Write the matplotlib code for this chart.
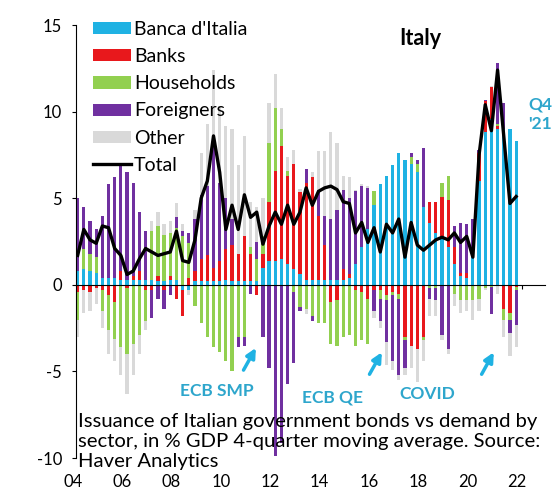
import numpy as np
import matplotlib.pyplot as plt
from matplotlib.transforms import ScaledTranslation

plt.rcParams['font.family'] = ['Lato', 'DejaVu Sans']
plt.rcParams['axes.unicode_minus'] = False

# quarterly, 2004Q1 .. 2021Q4, % of GDP (4-quarter moving average)
quarters = 2004 + np.arange(72) / 4

banca_italia = [0.8, 0.9, 0.8, 0.7, 0.4, 0.4, 0.4, 0.3, 0.3, 0.3, 0.3, 0.3,
                0.3, 0.2, 0.2, 0.3, 0.3, -0.3, -0.3, 0.2, 0.2, 0.2, 0.2, 0.2,
                0.3, 0.2, 0.2, 0.2, 0.2, 0.2, 1.0, 1.4, 1.4, 1.5, 1.2, 0.9,
                0.6, 0.3, 0.3, 0.3, 0.3, 0.3, 0.3, 0.3, 0.4, 1.2, 2.2, 3.2,
                4.6, 5.8, 6.3, 6.9, 7.6, 7.2, 7.0, 6.5, 4.5, 3.6, 3.0, 2.8,
                2.2, 1.2, 0.5, 0.4, 1.8, 6.0, 8.8, 9.6, 9.0, 9.0, 9.0, 8.3]
banks = [-0.4, -0.3, -0.4, -0.2, -0.3, -0.6, -1.0, 0.5, -0.2, 0.2, 0.5, -0.3,
         -0.3, 0.3, -0.3, 0.2, -0.8, -1.5, 0.4, 0.6, 1.3, 1.5, 0.8, 1.2,
         1.8, 2.1, 1.6, 2.6, 1.6, -0.6, 0.8, 3.4, 5.2, 6.5, 5.1, 6.1,
         4.75, 5.6, 5.9, 3.7, 2.0, -1.0, -0.9, 0.6, 0.2, -0.3, -0.4, -0.8,
         -0.3, -0.3, -0.6, -0.4, -0.5, -3.0, -3.5, -3.7, -3.0, 1.2, 1.8, 2.3,
         2.7, 1.0, 0.2, 0.3, 0.2, 1.6, 1.8, 1.8, 0.2, -1.4, -1.6, -0.1]
households = [-1.6, 1.2, 1.0, 0.9, -1.2, -2.0, -2.1, -3.6, -3.8, -3.4, -2.9, -1.8,
              2.8, 2.9, 2.7, 2.5, 3.0, 2.8, 2.0, -1.2, -2.2, -3.0, -3.6, -3.9,
              -4.4, -5.0, -3.0, -3.0, 0.4, 1.3, 1.0, 3.4, 3.6, 1.0, 0.3, -0.4,
              -1.3, -1.4, -1.8, -2.2, -2.2, -2.4, -2.6, -3.0, -2.9, -3.2, -2.8, -2.6,
              0.8, -0.5, -0.3, -0.2, -0.3, -0.2, 0.4, 0.5, -0.2, -0.2, -0.2, 0.8,
              1.4, -0.5, -0.9, -0.9, -0.9, -0.8, -0.2, -0.1, 0.1, -0.6, -0.4, -0.2]
foreigners = [4.2, 2.4, 1.9, 1.6, 3.6, 5.4, 5.8, 6.2, 6.2, 5.4, 3.4, 2.8,
              -1.6, -0.8, -1.1, -0.6, 0.6, 0.3, 0.6, 3.0, 3.7, 4.0, 7.0, 4.5,
              2.9, 1.5, -0.6, -0.5, -0.5, 1.0, -3.0, -4.8, -9.9, -9.1, -5.7, -4.1,
              -0.2, 0.8, -0.3, 1.5, 1.7, 3.5, 4.0, 4.6, 4.4, 4.2, 3.5, 2.4,
              -1.2, -1.3, -2.4, -3.8, -4.4, -1.6, 0.2, 0.2, 3.4, -0.6, -0.7, -2.9,
              -3.7, 1.2, 2.9, 2.8, 1.8, 0.2, 0.1, -1.6, 3.5, 1.5, -0.8, -2.0]
other = [-1.0, -1.3, -1.1, -0.9, -1.0, -1.4, -1.3, -1.6, -2.3, -1.8, -1.1, -0.5,
         0.6, 0.8, 0.6, 0.7, 0.8, 0.4, -0.3, 0.5, 2.4, 3.6, 4.4, 4.4,
         4.2, 5.2, 5.1, 5.8, 2.6, 2.0, 2.2, 2.3, 2.0, 1.2, 0.8, 0.8,
         0.2, -0.3, 0.3, 2.2, 3.7, 5.0, 3.9, 0.8, 1.2, 0.1, 0.1, 0.1,
         -0.4, -0.4, -1.3, -0.5, -0.3, -0.4, -1.3, -1.9, -1.2, -1.0, -0.9, -0.3,
         -0.3, -0.7, -0.7, -0.6, -1.1, -0.7, -0.1, 0.1, -0.5, -1.0, -1.3, -1.3]
total = [1.7, 3.2, 2.6, 2.4, 3.4, 3.3, 2.1, 1.7, 0.6, 0.8, 1.5, 2.1,
         1.9, 1.7, 1.8, 1.9, 3.1, 1.4, 1.3, 2.6, 5.0, 6.0, 8.6, 6.5,
         3.2, 4.6, 3.2, 5.2, 3.9, 4.2, 2.35, 3.4, 4.2, 3.5, 4.6, 3.5,
         4.2, 5.6, 4.6, 5.4, 5.6, 5.7, 5.5, 4.8, 4.7, 3.0, 3.6, 2.45,
         3.3, 1.9, 3.5, 3.0, 3.8, 1.6, 3.6, 2.3, 2.0, 2.3, 2.6, 2.75,
         2.6, 3.0, 2.45, 2.8, 1.6, 7.5, 10.4, 8.9, 12.4, 8.6, 4.7, 5.1]

series = [("Banca d'Italia", banca_italia, '#1fb2e3'),
          ('Banks', banks, '#e8181c'),
          ('Households', households, '#92d050'),
          ('Foreigners', foreigners, '#7030a0'),
          ('Other', other, '#d9d9d9')]

year_ticks = list(range(2004, 2023, 2))
year_labels = ['04', '06', '08', '10', '12', '14', '16', '18', '20', '22']
note_color = '#2ea6cc'
arrow_color = '#1fb2e3'

fig = plt.figure(figsize=(5.55, 4.91), dpi=100)
ax = fig.add_axes([0.137, 0.067, 0.845, 0.882])

pos_base = np.zeros(len(quarters))
neg_base = np.zeros(len(quarters))
handles = []
for name, vals, col in series:
    v = np.array(vals)
    p = np.where(v > 0, v, 0)
    n = np.where(v < 0, v, 0)
    h = ax.bar(quarters, p, 0.13, bottom=pos_base, color=col, label=name, zorder=2)
    ax.bar(quarters, n, 0.13, bottom=neg_base, color=col, zorder=2)
    handles.append(h)
    pos_base += p
    neg_base += n

line, = ax.plot(quarters, total, color='black', lw=2.4, label='Total', zorder=3)
handles.append(line)

ax.set_xlim(2003.935, 2022.92)
ax.set_ylim(-10, 15)
ax.spines['top'].set_visible(False)
ax.spines['right'].set_visible(False)
ax.spines['bottom'].set_position(('data', 0))
ax.spines['bottom'].set_zorder(4)
ax.set_xticks(year_ticks)
ax.set_xticklabels(year_labels)
ax.tick_params(axis='x', direction='out', length=3, pad=133.5, labelsize=12)
ax.set_yticks([-10, -5, 0, 5, 10, 15])
ax.set_yticklabels(['-10', '-5', '0', '5', '10', '15'])
ax.tick_params(axis='y', direction='out', length=3, pad=7, labelsize=12)
for lab in ax.get_xticklabels():
    lab.set_transform(lab.get_transform() + ScaledTranslation(-0.05, 0, fig.dpi_scale_trans))

ax.legend(handles=handles, loc='upper left', bbox_to_anchor=(0.1676, 0.957),
          bbox_transform=fig.transFigure, frameon=False, fontsize=14,
          handlelength=1.95, handleheight=0.58, handletextpad=0.15,
          labelspacing=0.52, borderpad=0, borderaxespad=0)

ax.text(2017.86, 14.2, 'Italy', fontsize=15.5, fontweight='bold', ha='center', va='center')
ax.text(2022.72, 9.85, "Q4\n'21", fontsize=12.5, fontweight='bold', color=note_color,
        ha='center', va='center', linespacing=1.2)

notes = [('ECB SMP', (2009.64, -6.1), (2010.66, -5.06), (2011.27, -3.5)),
         ('ECB QE', (2014.3, -6.5), (2015.76, -5.3), (2016.37, -3.75)),
         ('COVID', (2018.15, -6.28), (2020.3, -5.3), (2020.9, -3.75))]
for txt, pos, tail, head in notes:
    ax.text(pos[0], pos[1], txt, fontsize=12.5, fontweight='bold', color=note_color,
            ha='center', va='center')
    ax.annotate('', xy=head, xytext=tail,
                arrowprops=dict(arrowstyle='-|>', color=arrow_color, lw=2.5,
                                mutation_scale=14))

fig.text(0.1405, 0.158,
         'Issuance of Italian government bonds vs demand by\n'
         'sector, in % GDP 4-quarter moving average. Source:\n'
         'Haver Analytics',
         fontsize=14.6, ha='left', va='top', linespacing=1.2)

fig.savefig('out.png', dpi=100)
